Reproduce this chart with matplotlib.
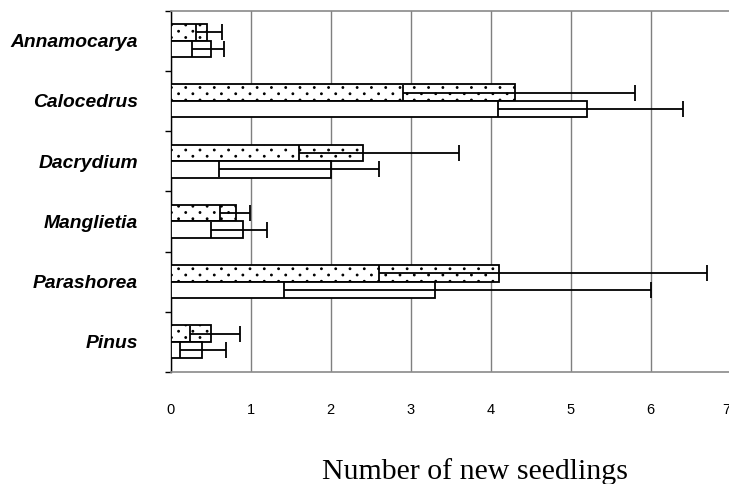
import matplotlib
matplotlib.use("Agg")
import matplotlib.pyplot as plt
from matplotlib import hatch as mhatch
from matplotlib.path import Path
import numpy as np

# ---- data ----
species = ["Annamocarya", "Calocedrus", "Dacrydium", "Manglietia", "Parashorea", "Pinus"]
dotted_vals = [0.45, 4.30, 2.40, 0.81, 4.10, 0.50]
dotted_lo   = [0.32, 2.90, 1.60, 0.61, 2.60, 0.24]
dotted_hi   = [0.64, 5.80, 3.60, 0.99, 6.70, 0.86]
plain_vals  = [0.50, 5.20, 2.00, 0.90, 3.30, 0.39]
plain_lo    = [0.27, 4.09, 0.60, 0.50, 1.41, 0.11]
plain_hi    = [0.67, 6.40, 2.60, 1.20, 6.00, 0.69]
xticks = [0, 1, 2, 3, 4, 5, 6, 7]
xlabel = "Number of new seedlings"


# ---- staggered dot hatch (Excel-like "dotted" fill) ----
class StaggeredDots(mhatch.HatchPatternBase):
    n_rows = 16
    n_cols = 7
    radius = 0.0085

    def __init__(self, hatch, density):
        self.active = '.' in hatch
        circ = Path.unit_circle()
        self.shape_vertices = circ.vertices
        self.shape_codes = circ.codes
        if self.active:
            self.positions = []
            for r in range(self.n_rows + 1):
                yy = r / self.n_rows
                if r % 2 == 0:
                    cols = np.linspace(0, 1, self.n_cols + 1)
                else:
                    cols = np.linspace(0.5 / self.n_cols, 1 - 0.5 / self.n_cols, self.n_cols)
                for xx in cols:
                    self.positions.append((xx, yy))
            self.num_vertices = len(self.positions) * len(self.shape_vertices)
        else:
            self.positions = []
            self.num_vertices = 0

    def set_vertices_and_codes(self, vertices, codes):
        vparts, cparts = [], []
        for (xx, yy) in self.positions:
            vparts.append(self.shape_vertices * self.radius + [xx, yy])
            cparts.append(self.shape_codes)
        np.concatenate(vparts, out=vertices)
        np.concatenate(cparts, out=codes)


dot_hatch = ".."
try:
    mhatch._hatch_types = [t for t in mhatch._hatch_types
                           if t is not mhatch.SmallFilledCircles] + [StaggeredDots]
    mhatch.get_path(".", 6)
    dot_hatch = "."
except Exception:
    dot_hatch = ".."

W, H = 729, 484
fig = plt.figure(figsize=(W / 100, H / 100), dpi=100)
ax = fig.add_axes([170.7 / W, 1 - 372 / H, (730.7 - 170.7) / W, (372 - 10.5) / H])

y = np.arange(len(species))
bh = 0.275
plt.rcParams['hatch.linewidth'] = 0.8

ax.barh(y - bh / 2, dotted_vals, height=bh, color="white", edgecolor="black",
        linewidth=1.3, hatch=dot_hatch, zorder=3)
ax.barh(y + bh / 2, plain_vals, height=bh, color="white", edgecolor="black",
        linewidth=1.3, zorder=3)

dv = np.array(dotted_vals)
pv = np.array(plain_vals)
derr = [dv - np.array(dotted_lo), np.array(dotted_hi) - dv]
perr = [pv - np.array(plain_lo), np.array(plain_hi) - pv]
ax.errorbar(dv, y - bh / 2, xerr=derr, fmt="none", ecolor="black",
            elinewidth=1.3, capsize=5.5, capthick=1.3, zorder=4)
ax.errorbar(pv, y + bh / 2, xerr=perr, fmt="none", ecolor="black",
            elinewidth=1.3, capsize=5.5, capthick=1.3, zorder=4)

ax.set_xlim(0, 7)
ax.set_ylim(len(species) - 0.5, -0.5)
ax.set_xticks(xticks)
ax.set_xticklabels([str(t) for t in xticks], family="Liberation Sans", fontsize=10.5)
ax.get_xticklabels()[-1].set_horizontalalignment("right")
ax.tick_params(axis="x", length=0, pad=22)
ax.set_yticks(y)
ax.set_yticklabels(species, family="Liberation Sans", fontsize=13.9,
                   fontweight="bold", fontstyle="italic")
ax.set_yticks(np.arange(-0.5, len(species)), minor=True)
ax.tick_params(axis="y", which="major", length=0, pad=23.5)
ax.tick_params(axis="y", which="minor", length=4.5, width=1, color="black")

ax.grid(axis="x", color="#7f7f7f", linewidth=1, zorder=0)
ax.set_axisbelow(True)
ax.spines["left"].set_color("black")
ax.spines["left"].set_linewidth(1)
for s in ["top", "bottom", "right"]:
    ax.spines[s].set_color("#8a8a8a")
    ax.spines[s].set_linewidth(1.2)

fig.text(475 / W, 1 - 479.3 / H, xlabel, family="Liberation Serif", fontsize=21.5,
         ha="center", va="baseline")

fig.savefig("out.png", dpi=100)
